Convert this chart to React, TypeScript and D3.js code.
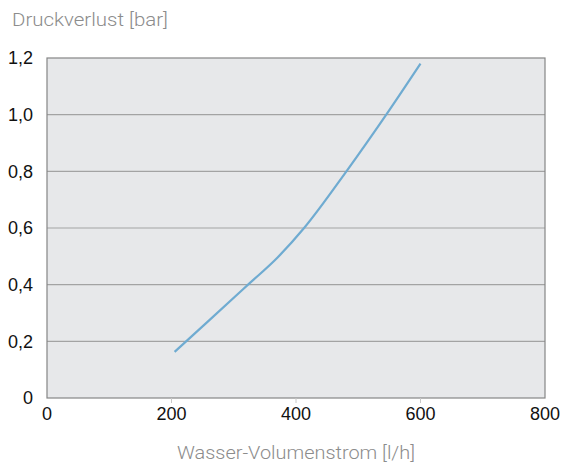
import React from "react";
import * as d3 from "d3";

const flowValues = [205, 260, 323, 370, 413, 481, 545, 600];
const pressureValues = [0.163, 0.273, 0.4, 0.495, 0.6, 0.8, 1.0, 1.18];
const xTicks = [0, 200, 400, 600, 800];
const yTicks = [0, 0.2, 0.4, 0.6, 0.8, 1.0, 1.2];
const yTitle = "Druckverlust [bar]";
const xTitle = "Wasser-Volumenstrom [l/h]";

export default function App() {
  const W = 564, H = 466;
  const left = 47, right = 545, top = 58, bottom = 398;
  const x = d3.scaleLinear().domain([0, 800]).range([left, right]);
  const y = d3.scaleLinear().domain([0, 1.2]).range([bottom, top]);
  const pts: [number, number][] = flowValues.map((f, i) => [f, pressureValues[i]]);
  const line = d3
    .line<[number, number]>()
    .x((d) => x(d[0]))
    .y((d) => y(d[1]))
    .curve(d3.curveMonotoneX);
  const fmt = (v: number) => (v === 0 ? "0" : v.toFixed(1).replace(".", ","));
  return (
    <svg width={W} height={H} style={{ position: "absolute", left: 0, top: 0 }}>
      <rect x={left} y={top} width={right - left} height={bottom - top} fill="#e7e8ea" />
      {yTicks.slice(1, -1).map((t) => (
        <line key={t} x1={left} x2={right} y1={y(t)} y2={y(t)} stroke="#a3a3a3" strokeWidth={1.2} />
      ))}
      <rect x={left} y={top} width={right - left} height={bottom - top} fill="none" stroke="#858585" strokeWidth={1.2} />
      {xTicks.slice(1, -1).map((t) => (
        <line key={t} x1={x(t)} x2={x(t)} y1={bottom} y2={bottom + 5} stroke="#c8c8c8" strokeWidth={1} />
      ))}
      <path d={line(pts) || ""} fill="none" stroke="#6fabd1" strokeWidth={2.2} />
      {yTicks.map((t) => (
        <text key={t} x={33} y={y(t)} dy="0.36em" textAnchor="end" fontFamily="Liberation Sans, Arial, sans-serif" fontSize={18} fill="#111">
          {fmt(t)}
        </text>
      ))}
      {xTicks.map((t) => (
        <text key={t} x={x(t)} y={420} textAnchor="middle" fontFamily="Liberation Sans, Arial, sans-serif" fontSize={18} fill="#111">
          {t}
        </text>
      ))}
      <text x={12} y={26} fontFamily="Roboto, sans-serif" fontWeight={300} fontSize={19} fill="#8c8c8c" textLength={156} lengthAdjust="spacingAndGlyphs">
        {yTitle}
      </text>
      <text x={177} y={459} fontFamily="Roboto, sans-serif" fontWeight={300} fontSize={18} fill="#8c8c8c" textLength={238} lengthAdjust="spacingAndGlyphs">
        {xTitle}
      </text>
    </svg>
  );
}
